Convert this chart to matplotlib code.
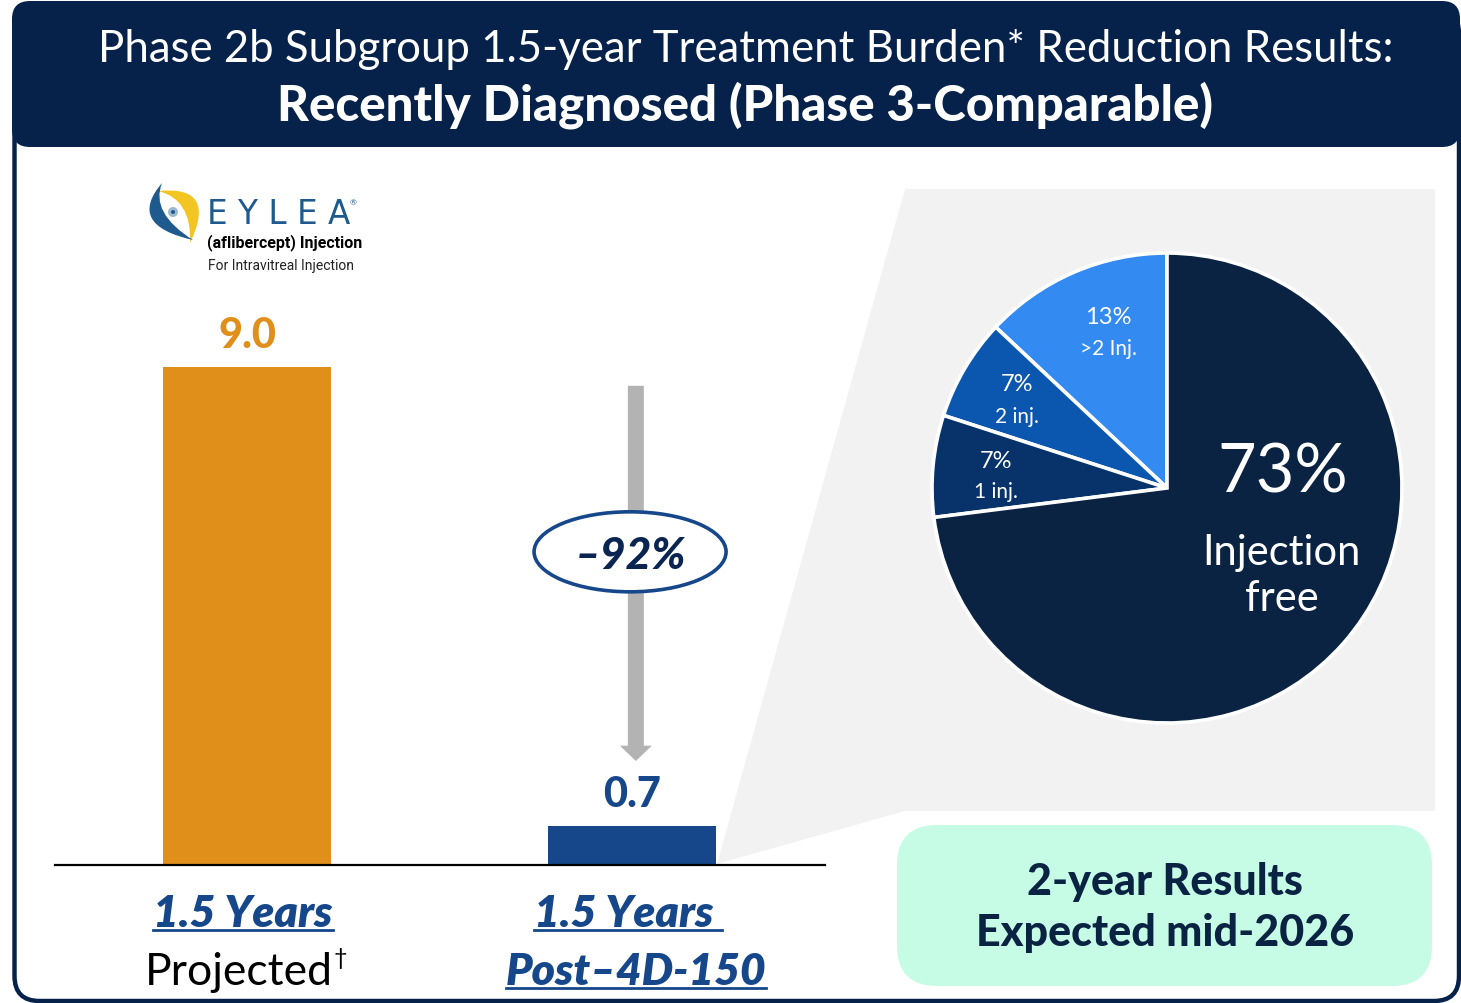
import matplotlib

matplotlib.use("Agg")
import matplotlib.pyplot as plt
from matplotlib.patches import Ellipse, FancyBboxPatch, PathPatch, Polygon, Circle
from matplotlib.path import Path

plt.rcParams["font.family"] = ["Lato", "DejaVu Sans"]

# data
categories = ["1.5 Years", "1.5 Years "]
sub_labels = ["Projected", "Post\u20134D-150"]
burden = [9.0, 0.7]
bar_colors = ["#E0901A", "#16478A"]
reduction_label = "\u201392%"

pie_labels = [">2 Inj.", "2 inj.", "1 inj.", "Injection\nfree"]
pie_shares = [13, 7, 7, 73]
pie_colors = ["#338AF0", "#0B56AE", "#08326A", "#0A2342"]

NAVY = "#06224A"
BLUE = "#16478A"
W, H = 1461, 1004

fig = plt.figure(figsize=(W / 100, H / 100), dpi=100)

# background canvas in pixel coordinates
bg = fig.add_axes([0, 0, 1, 1], zorder=0)
bg.set_xlim(0, W)
bg.set_ylim(H, 0)
bg.axis("off")

bg.add_patch(FancyBboxPatch((14.5, 10), 1459 - 14.5, 1002 - 10,
                            boxstyle="round,pad=0,rounding_size=25",
                            fc="white", ec=NAVY, lw=3.2))
bg.add_patch(FancyBboxPatch((12, 2), 1460 - 12, 146,
                            boxstyle="round,pad=0,rounding_size=18",
                            fc=NAVY, ec="none"))
bg.text(746, 49, "Phase 2b Subgroup 1.5-year Treatment Burden* Reduction Results:",
        color="white", fontsize=31.5, ha="center", va="center")
bg.text(745, 105, "Recently Diagnosed (Phase 3-Comparable)",
        color="white", fontsize=35.5, fontweight="black", ha="center", va="center")

# grey zoom backdrop linking the small bar to the pie
bg.add_patch(Polygon([(717, 865), (905, 190), (1435, 190), (1435, 812), (905, 812)],
                     closed=True, fc="#F2F2F2", ec="none"))

# mint callout
bg.add_patch(FancyBboxPatch((897, 826), 1432 - 897, 987 - 826,
                            boxstyle="round,pad=0,rounding_size=40",
                            fc="#C6FCE6", ec="none"))
bg.text(1165, 882, "2-year Results", color="#0A2342", fontsize=31,
        fontweight="black", ha="center", va="center")
bg.text(1165, 933, "Expected mid-2026", color="#0A2342", fontsize=31,
        fontweight="black", ha="center", va="center")

# rough EYLEA logo
blue_shape = Path([(162, 184), (126, 226), (193, 241), (150, 214), (162, 184)],
                  [Path.MOVETO, Path.CURVE3, Path.CURVE3, Path.CURVE3, Path.CURVE3])
yellow_shape = Path([(158, 192), (218, 186), (190, 244), (192, 200), (158, 192)],
                    [Path.MOVETO, Path.CURVE3, Path.CURVE3, Path.CURVE3, Path.CURVE3])
bg.add_patch(PathPatch(yellow_shape, fc="#F2C523", ec="none"))
bg.add_patch(PathPatch(blue_shape, fc="#1E5A8E", ec="none"))
bg.add_patch(Circle((173, 213), 5, fc="#9DB8D0", ec="none"))
bg.add_patch(Circle((173, 213), 2, fc="#1E5A8E", ec="none"))
bg.text(207, 215, "E Y L E A", color="#1E5A8E", fontsize=23.5, ha="left", va="center",
        family=["DejaVu Sans"])
bg.text(350, 203, "\u00ae", color="#1E5A8E", fontsize=6, ha="left", va="center")
bg.text(207, 243, "(aflibercept) Injection", color="black", fontsize=11.5,
        fontweight="bold", ha="left", va="center", family=["Roboto", "DejaVu Sans"])
bg.text(208, 266, "For Intravitreal Injection", color="#222222", fontsize=10,
        ha="left", va="center", family=["Roboto", "DejaVu Sans"])

# bar chart
PX_PER_UNIT = 498 / 9.0
ax = fig.add_axes([55 / W, (H - 866) / H, 770 / W, 566 / H], zorder=2)
ax.patch.set_alpha(0)
x = range(len(burden))
ax.bar(x, burden, width=168 / 385, color=bar_colors)
ax.set_xlim(-192 / 385, 1 + 193 / 385)
ax.set_ylim(0, 566 / PX_PER_UNIT)
for s in ax.spines.values():
    s.set_visible(False)
ax.set_xticks([])
ax.set_yticks([])
ax.axhline(0, color="black", lw=1.6, clip_on=False)

for i, v in enumerate(burden):
    ax.text(i, v + 20 / PX_PER_UNIT, f"{v:.1f}", color=bar_colors[i], fontsize=30,
            fontweight="black", ha="center", va="baseline")

# reduction arrow and badge
ax.annotate("", xy=(1.01, 1.88), xytext=(1.01, 8.66),
            arrowprops=dict(width=11.5, headwidth=23, headlength=11,
                            fc="#B3B3B3", ec="none", shrink=0))
ax.add_patch(Ellipse((0.995, 5.66), 192 / 385, 80 / PX_PER_UNIT,
                     fc="white", ec=BLUE, lw=2.6, zorder=5))
ax.text(0.995, 5.66, reduction_label, color="#0A2550", fontsize=32, fontweight="black",
        fontstyle="italic", ha="center", va="center_baseline", zorder=6)

# category labels
y1 = (866 - 927) / PX_PER_UNIT
y2 = (866 - 985) / PX_PER_UNIT
top_texts = []
for i, lab in enumerate(categories):
    t = ax.text(i - 0.01, y1, lab, color=BLUE, fontsize=32, fontweight="heavy",
                fontstyle="italic", ha="center", va="baseline", clip_on=False)
    top_texts.append(t)
t_proj = ax.text(-0.02, y2, sub_labels[0], color="black", fontsize=32,
                 ha="center", va="baseline", clip_on=False)
t_post = ax.text(1.01, y2, sub_labels[1], color=BLUE, fontsize=32, fontweight="heavy",
                 fontstyle="italic", ha="center", va="baseline", clip_on=False)

fig.canvas.draw()
inv = ax.transData.inverted()
for t, yb in [(top_texts[0], y1), (top_texts[1], y1), (t_post, y2)]:
    bb = t.get_window_extent()
    x0 = inv.transform((bb.x0, bb.y0))[0]
    x1 = inv.transform((bb.x1, bb.y0))[0]
    ax.plot([x0, x1], [yb - 4 / PX_PER_UNIT] * 2, color=BLUE, lw=2, clip_on=False)
bb = t_proj.get_window_extent()
ax.text(inv.transform((bb.x1, bb.y0))[0], y2 + 20 / PX_PER_UNIT, "\u2020",
        color="black", fontsize=17, ha="left", va="baseline", clip_on=False)

# pie
pax = fig.add_axes([932 / W, (H - 724) / H, 470 / W, 470 / H], zorder=2)
pax.pie(pie_shares, colors=pie_colors, startangle=90, counterclock=True,
        wedgeprops=dict(ec="white", lw=2.6))
pax.set_xlim(-1, 1)
pax.set_ylim(-1, 1)
pax.set_aspect("equal")

small_pos = [(-0.251, 0.728, 0.596), (-0.638, 0.443, 0.306), (-0.728, 0.119, -0.013)]
for (px, py_pct, py_lab), share, lab in zip(small_pos, pie_shares[:3], pie_labels[:3]):
    pax.text(px, py_pct, f"{share}%", color="white", fontsize=17, ha="center", va="center")
    pax.text(px, py_lab, lab, color="white", fontsize=15, ha="center", va="center")
pax.text(0.494, 0.064, f"{pie_shares[3]}%", color="white", fontsize=48,
         ha="center", va="center")
pax.text(0.489, -0.37, pie_labels[3], color="white", fontsize=30,
         ha="center", va="center", linespacing=1.25)

fig.savefig("out.png", dpi=100)
